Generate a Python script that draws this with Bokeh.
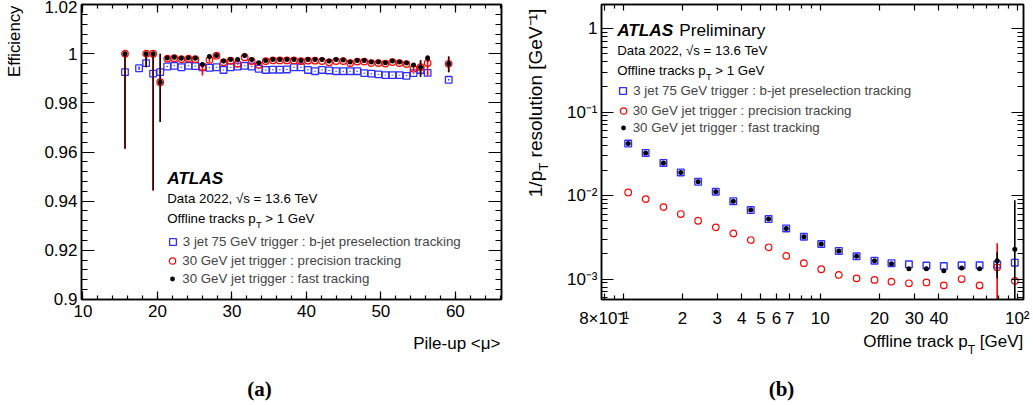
import json
import math
import numpy as np
from bokeh.plotting import figure
from bokeh.layouts import row, column
from bokeh.models import (ColumnDataSource, Range1d, LinearAxis, LogAxis,
                          SingleIntervalTicker, FixedTicker, LogTicker,
                          CustomJSTickFormatter, Label, Legend, LegendItem, AllLabels)
from bokeh.embed import file_html
from bokeh.resources import INLINE

nan = float("nan")

# ---------------- Panel (a): efficiency vs pile-up ----------------
mu = [15.64, 17.53, 18.48, 19.42, 20.37, 21.31, 22.26, 23.20, 24.15, 25.09,
      26.04, 26.98, 27.93, 28.87, 29.82, 30.76, 31.71, 32.65, 33.60, 34.54,
      35.49, 36.43, 37.38, 38.32, 39.27, 40.21, 41.16, 42.10, 43.05, 43.99,
      44.94, 45.88, 46.83, 47.77, 48.72, 49.66, 50.61, 51.55, 52.50, 53.44,
      54.39, 55.33, 56.28, 59.11]
eff_bjet = [0.9925, 0.9941, 0.9962, 0.9919, 0.9925, 0.9948, 0.9951, 0.9945, 0.9951, 0.9950,
            0.9945, 0.9943, 0.9945, 0.9934, 0.9945, 0.9948, 0.9951, 0.9948, 0.9939, 0.9934,
            0.9935, 0.9935, 0.9936, 0.9945, 0.9945, 0.9934, 0.9929, 0.9934, 0.9932, 0.9929,
            0.9929, 0.9929, 0.9929, 0.9921, 0.9919, 0.9916, 0.9913, 0.9913, 0.9913, 0.9910,
            0.9921, 0.9934, 0.9922, 0.9894]
eff_bjet_err = [0.0003, 0.0007, 0.0004, 0.0003, 0.0003, 0.0002, 0.0002, 0.0002, 0.0002, 0.0002,
                0.0002, 0.0002, 0.0002, 0.0002, 0.0002, 0.0002, 0.0002, 0.0002, 0.0002, 0.0002,
                0.0002, 0.0002, 0.0002, 0.0002, 0.0002, 0.0002, 0.0002, 0.0002, 0.0002, 0.0002,
                0.0002, 0.0002, 0.0002, 0.0002, 0.0002, 0.0002, 0.0002, 0.0002, 0.0002, 0.0002,
                0.0002, 0.0003, 0.0003, 0.0003]
eff_prec = [1.0000, nan, 1.0000, 1.0000, 0.9884, 0.9980, 0.9982, 0.9978, 0.9980, 0.9978,
            0.9945, 0.9975, 0.9992, 0.9965, 0.9972, 0.9959, 0.9986, 0.9970, 0.9955, 0.9970,
            0.9973, 0.9973, 0.9973, 0.9973, 0.9970, 0.9972, 0.9972, 0.9970, 0.9965, 0.9970,
            0.9970, 0.9962, 0.9968, 0.9968, 0.9962, 0.9962, 0.9960, 0.9966, 0.9962, 0.9958,
            0.9939, 0.9945, 0.9962, 0.9959]
eff_prec_dn = [0.0387, nan, 0.0055, 0.0557, 0.0162, 0.0004, 0.0004, 0.0004, 0.0004, 0.0004,
               0.0034, 0.0010, 0.0004, 0.0004, 0.0004, 0.0004, 0.0004, 0.0004, 0.0004, 0.0004,
               0.0004, 0.0004, 0.0004, 0.0004, 0.0004, 0.0004, 0.0004, 0.0004, 0.0004, 0.0004,
               0.0004, 0.0004, 0.0004, 0.0004, 0.0004, 0.0004, 0.0004, 0.0004, 0.0004, 0.0004,
               0.0010, 0.0035, 0.0052, 0.0034]
eff_prec_up = [0.0, nan, 0.0, 0.0, 0.0116, 0.0004, 0.0004, 0.0004, 0.0004, 0.0004,
               0.0015, 0.0010, 0.0004, 0.0004, 0.0004, 0.0004, 0.0004, 0.0004, 0.0004, 0.0004,
               0.0004, 0.0004, 0.0004, 0.0004, 0.0004, 0.0004, 0.0004, 0.0004, 0.0004, 0.0004,
               0.0004, 0.0004, 0.0004, 0.0004, 0.0004, 0.0004, 0.0004, 0.0004, 0.0004, 0.0004,
               0.0010, 0.0030, 0.0025, 0.0030]
eff_fast = [1.0000, nan, 1.0000, 1.0000, 0.9884, 0.9983, 0.9986, 0.9982, 0.9983, 0.9982,
            0.9956, 0.9989, 0.9993, 0.9970, 0.9977, 0.9977, 0.9993, 0.9977, 0.9963, 0.9973,
            0.9977, 0.9977, 0.9977, 0.9977, 0.9973, 0.9977, 0.9977, 0.9977, 0.9970, 0.9977,
            0.9975, 0.9966, 0.9973, 0.9973, 0.9966, 0.9966, 0.9963, 0.9970, 0.9966, 0.9962,
            0.9954, 0.9945, 0.9983, 0.9959]
eff_fast_dn = [0.0387, nan, 0.0055, 0.0557, 0.0162, 0.0003, 0.0003, 0.0003, 0.0003, 0.0003,
               0.0010, 0.0008, 0.0003, 0.0003, 0.0003, 0.0003, 0.0003, 0.0003, 0.0003, 0.0003,
               0.0003, 0.0003, 0.0003, 0.0003, 0.0003, 0.0003, 0.0003, 0.0003, 0.0003, 0.0003,
               0.0003, 0.0003, 0.0003, 0.0003, 0.0003, 0.0003, 0.0003, 0.0003, 0.0003, 0.0003,
               0.0008, 0.0040, 0.0017, 0.0034]
eff_fast_up = [0.0, nan, 0.0, 0.0, 0.0116, 0.0003, 0.0003, 0.0003, 0.0003, 0.0003,
               0.0010, 0.0008, 0.0003, 0.0003, 0.0003, 0.0003, 0.0003, 0.0003, 0.0003, 0.0003,
               0.0003, 0.0003, 0.0003, 0.0003, 0.0003, 0.0003, 0.0003, 0.0003, 0.0003, 0.0003,
               0.0003, 0.0003, 0.0003, 0.0003, 0.0003, 0.0003, 0.0003, 0.0003, 0.0003, 0.0003,
               0.0008, 0.0028, 0.0011, 0.0030]

# ---------------- Panel (b): 1/pT resolution vs pT ----------------
pt = [1.06, 1.30, 1.60, 1.96, 2.40, 2.95, 3.62, 4.44, 5.47, 6.72, 8.26, 10.12,
      12.43, 15.29, 18.86, 23.0, 28.2, 34.6, 42.4, 52.2, 64.4, 79.1, 97.2]
res_bjet = [0.0419, 0.0324, 0.0246, 0.0189, 0.0146, 0.0111, 0.00857, 0.0067, 0.00523,
            0.00404, 0.00321, 0.00263, 0.00217, 0.00187, 0.00166, 0.00155, 0.00150,
            0.00145, 0.00143, 0.00146, 0.00146, 0.00149, 0.00157]
res_prec = [0.01089, 0.00906, 0.00727, 0.00600, 0.00499, 0.00416, 0.00352, 0.00293,
            0.00240, 0.00189, 0.00155, 0.00131, 0.00112, 0.00102, 0.000976, 0.00093,
            0.00089, 0.00091, 0.00084, 0.00100, 0.00084, 0.00138, 0.00095]
res_prec_dn = [0, 0, 0, 0, 0, 0, 0, 0, 0, 0, 0, 0, 0, 0, 0, 0, 0, 0, 0, 0, 0, 0.00110, 0]
res_prec_up = [0, 0, 0, 0, 0, 0, 0, 0, 0, 0, 0, 0, 0, 0, 0, 0, 0, 0, 0, 0, 0, 0.00130, 0]
res_fast = [0.0419, 0.0324, 0.0246, 0.0189, 0.0146, 0.0111, 0.00857, 0.0067, 0.00523,
            0.00404, 0.00321, 0.00263, 0.00217, 0.00187, 0.00166, 0.00153, 0.00133,
            0.00133, 0.00126, 0.00136, 0.00133, 0.00166, 0.00227]
res_fast_dn = [0, 0, 0, 0, 0, 0, 0, 0, 0, 0, 0, 0, 0, 0, 0,
               0.00006, 0.00006, 0.00006, 0.00006, 0.00006, 0.00006, 0.00064, 0.00200]
res_fast_up = [0, 0, 0, 0, 0, 0, 0, 0, 0, 0, 0, 0, 0, 0, 0,
               0.00006, 0.00006, 0.00006, 0.00006, 0.00006, 0.00006, 0.00043, 0.00653]

series_labels = ["3 jet 75 GeV trigger : b-jet preselection tracking",
                 "30 GeV jet trigger : precision tracking",
                 "30 GeV jet trigger : fast tracking"]
pt_ticks = [0.8, 1, 2, 3, 4, 5, 6, 7, 10, 20, 30, 40, 100]
pt_tick_labels = ["8×10⁻¹", "1", "2", "3", "4", "5", "6", "7", "10", "20", "30", "40", "10²"]
pt_minor_ticks = [0.9, 8, 9, 50, 60, 70, 80, 90]

BLUE = "#2f2fff"
RED = "#ff0000"
FONT = "Liberation Sans"

# Helvetica / Liberation Sans advance widths (per 1000 em)
W = {' ': 278, '/': 278, '[': 278, ']': 278, '.': 278, ',': 278, ':': 278, '-': 333,
     '>': 584, '<': 584, '=': 584,
     'a': 556, 'b': 556, 'c': 500, 'd': 556, 'e': 556, 'f': 278, 'g': 556, 'h': 556,
     'i': 222, 'j': 222, 'k': 500, 'l': 222, 'm': 833, 'n': 556, 'o': 556, 'p': 556,
     'q': 556, 'r': 333, 's': 500, 't': 278, 'u': 556, 'v': 500, 'w': 722, 'x': 500,
     'y': 500, 'z': 500, 'A': 667, 'D': 722, 'E': 667, 'G': 778, 'L': 556, 'O': 778,
     'P': 667, 'S': 667, 'T': 611, 'V': 667}
WB = {'A': 722, 'T': 611, 'L': 611, 'S': 667, ' ': 278}


def tw(s, size, bold=False):
    tab = WB if bold else W
    return sum(tab.get(c, 556) for c in s) * size / 1000.0


def txt(p, x, y, s, size, font=FONT, style="normal", align="left", angle=0.0):
    p.add_layout(Label(x=x, y=y, x_units="canvas", y_units="canvas", text=s,
                       text_font=font, text_font_size=f"{size}px", text_font_style=style,
                       text_align=align, text_baseline="middle", angle=angle,
                       text_color="black"))


def style_axis(ax, tin, mtin, label_size="17px", standoff=4):
    ax.axis_line_color = "black"
    ax.axis_line_width = 1.5
    ax.major_tick_line_color = "black"
    ax.minor_tick_line_color = "black"
    ax.major_tick_line_width = 1.2
    ax.minor_tick_line_width = 1.2
    ax.major_tick_in = tin
    ax.major_tick_out = 0
    ax.minor_tick_in = mtin
    ax.minor_tick_out = 0
    ax.major_label_text_font = FONT
    ax.major_label_text_font_size = label_size
    ax.major_label_text_color = "black"
    ax.major_label_standoff = standoff
    ax.major_label_policy = AllLabels()


def blank_axis(ax, tin, mtin):
    style_axis(ax, tin, mtin, label_size="0px", standoff=0)
    ax.formatter = CustomJSTickFormatter(code="return '';")


def errs(x, v, dn, up):
    v = np.array(v, dtype=float)
    return ColumnDataSource(dict(x=x, lo=v - np.array(dn, dtype=float),
                                 hi=v + np.array(up, dtype=float)))


def add_legends(p, rows, cx, renderers):
    # rows: y of row centre above frame bottom; cx: marker centre from frame left
    specs = [(17, 2), (16, 2), (12, 4)]
    for (gw, st), ry, r, lab in zip(specs, rows, renderers, series_labels):
        lg = Legend(items=[LegendItem(label=lab, renderers=[r])],
                    location=(cx - gw / 2.0, ry - 8.5),
                    glyph_width=gw, glyph_height=17, label_height=17, label_standoff=st,
                    padding=0, margin=0, spacing=0, border_line_color=None,
                    background_fill_alpha=0, label_text_font=FONT,
                    label_text_font_size="13.3px")
        p.add_layout(lg)


def text_strip(w, h):
    s = figure(width=w, height=h, x_range=Range1d(0, 1), y_range=Range1d(0, 1),
               x_axis_location=None, y_axis_location=None, toolbar_location=None,
               output_backend="svg", min_border=0, min_border_left=0, min_border_right=0,
               min_border_top=0, min_border_bottom=0)
    s.xgrid.visible = False
    s.ygrid.visible = False
    s.outline_line_color = None
    s.background_fill_color = "white"
    s.border_fill_color = "white"
    return s


def main_fig(w, h, xr, yr, bl, br, **kw):
    p = figure(width=w, height=h, x_range=xr, y_range=yr, output_backend="svg",
               toolbar_location=None, min_border_left=bl, min_border_right=br,
               min_border_top=4, min_border_bottom=h - 4 - 295, **kw)
    p.xgrid.visible = False
    p.ygrid.visible = False
    p.outline_line_color = "black"
    p.outline_line_width = 1.5
    p.background_fill_color = "white"
    p.border_fill_color = "white"
    return p


H_MAIN = 330
H_ALL = 404
SP13 = tw(" ", 13.3)

# =============== figure (a) ===============
# main_a occupies page x 24..520, frame 81..501, y 4..299
pa = main_fig(496, H_MAIN, Range1d(9.8, 66.2), Range1d(0.89995, 1.02005), 57, 19)

xt_a = SingleIntervalTicker(interval=10, num_minor_ticks=5)
yt_a = SingleIntervalTicker(interval=0.02, num_minor_ticks=5)
pa.xaxis[0].ticker = xt_a
pa.yaxis[0].ticker = yt_a
pa.yaxis[0].formatter = CustomJSTickFormatter(
    code="return tick.toFixed(2).replace(/0+$/, '').replace(/\\.$/, '');")
style_axis(pa.xaxis[0], 8, 4, standoff=5)
style_axis(pa.yaxis[0], 13, 6, standoff=4)
ra = LinearAxis(ticker=yt_a)
blank_axis(ra, 13, 6)
pa.add_layout(ra, "right")
ta = LinearAxis(ticker=xt_a)
blank_axis(ta, 8, 4)
pa.add_layout(ta, "above")

pa.segment(x0="x", y0="lo", x1="x", y1="hi", source=errs(mu, eff_bjet, eff_bjet_err, eff_bjet_err),
           line_color=BLUE, line_width=1.5)
r_b = pa.scatter(mu, eff_bjet, marker="square", size=6.6, fill_color=None,
                 line_color=BLUE, line_width=1.3)
pa.segment(x0="x", y0="lo", x1="x", y1="hi", source=errs(mu, eff_prec, eff_prec_dn, eff_prec_up),
           line_color=RED, line_width=1.6)
r_p = pa.scatter(mu, eff_prec, marker="circle", size=6.6, fill_color=None,
                 line_color=RED, line_width=1.2)
pa.segment(x0="x", y0="lo", x1="x", y1="hi", source=errs(mu, eff_fast, eff_fast_dn, eff_fast_up),
           line_color="black", line_width=1.6, line_alpha=0.85)
r_f = pa.scatter(mu, eff_fast, marker="circle", size=5.0, fill_color="black", line_color=None)

add_legends(pa, [299 - 241.7, 299 - 260.3, 299 - 278.7], 91.3, [r_b, r_p, r_f])

OA = 24  # page x of main_a canvas
txt(pa, 166.7 - OA, 177.5, "ATLAS", 17.2, style="bold italic")
txt(pa, 166.7 - OA, 198, "Data 2022, √s = 13.6 TeV", 13.3)
x0 = 166.7 - OA
txt(pa, x0, 218.3, "Offline tracks p", 13.3)
x1 = x0 + tw("Offline tracks p", 13.3)
txt(pa, x1, 224.7, "T", 9.3)
txt(pa, x1 + tw("T", 9.3) + SP13, 218.3, "> 1 GeV", 13.3)

left_a = text_strip(24, H_ALL)
txt(left_a, 14, 5, "Efficiency", 16.8, align="right", angle=math.pi / 2)

bot_a = text_strip(496, H_ALL - H_MAIN)
txt(bot_a, 500 - OA, 343.3 - H_MAIN, "Pile-up <μ>", 17, align="right")
txt(bot_a, 259 - OA, 388 - H_MAIN, "(a)", 21, font="Liberation Serif", style="bold", align="center")

# =============== figure (b) ===============
# main_b occupies page x 552..1032, frame 601..1023, y 4..299
pb = main_fig(480, H_MAIN, Range1d(0.776, 107.6), Range1d(5.69e-4, 1.939), 49, 9,
              x_axis_type="log", y_axis_type="log")

xt_b = FixedTicker(ticks=pt_ticks, minor_ticks=pt_minor_ticks)
yt_b = LogTicker(num_minor_ticks=10)
mapping = {str(t): l for t, l in zip(pt_ticks, pt_tick_labels)}
pb.xaxis[0].ticker = xt_b
pb.xaxis[0].formatter = CustomJSTickFormatter(
    code="const m = " + json.dumps(mapping) + "; const k = String(tick); return (k in m) ? m[k] : '';")
pb.yaxis[0].ticker = yt_b
pb.yaxis[0].formatter = CustomJSTickFormatter(code="""
const e = Math.round(Math.log10(tick));
if (e == 0) return '1';
const sup = {'-': '\u207b', '0': '\u2070', '1': '\u00b9', '2': '\u00b2', '3': '\u00b3',
             '4': '\u2074', '5': '\u2075', '6': '\u2076', '7': '\u2077', '8': '\u2078', '9': '\u2079'};
return '10' + String(e).split('').map(c => sup[c]).join('');
""")
style_axis(pb.xaxis[0], 6, 4, standoff=9)
style_axis(pb.yaxis[0], 12, 6, standoff=4)
rb = LogAxis(ticker=yt_b)
blank_axis(rb, 12, 6)
pb.add_layout(rb, "right")
tb = LogAxis(ticker=xt_b)
blank_axis(tb, 6, 4)
pb.add_layout(tb, "above")

rb_b = pb.scatter(pt, res_bjet, marker="square", size=6.6, fill_color=None,
                  line_color=BLUE, line_width=1.4)
pb.segment(x0="x", y0="lo", x1="x", y1="hi", source=errs(pt, res_prec, res_prec_dn, res_prec_up),
           line_color=RED, line_width=1.6)
rb_p = pb.scatter(pt, res_prec, marker="circle", size=6.6, fill_color=None,
                  line_color=RED, line_width=1.2)
pb.segment(x0="x", y0="lo", x1="x", y1="hi", source=errs(pt, res_fast, res_fast_dn, res_fast_up),
           line_color="black", line_width=1.6)
rb_f = pb.scatter(pt, res_fast, marker="circle", size=5.0, fill_color="black", line_color=None)

add_legends(pb, [299 - 90.7, 299 - 110.0, 299 - 127.7], 21.7, [rb_b, rb_p, rb_f])

OB = 552  # page x of main_b canvas
bx0 = 616.7 - OB
txt(pb, bx0, 29.5, "ATLAS", 17.2, style="bold italic")
txt(pb, bx0 + tw("ATLAS ", 17.2, bold=True), 29.5, "Preliminary", 17.2)
txt(pb, bx0, 50, "Data 2022, √s = 13.6 TeV", 13.3)
txt(pb, bx0, 70, "Offline tracks p", 13.3)
bx1 = bx0 + tw("Offline tracks p", 13.3)
txt(pb, bx1, 76.4, "T", 9.3)
txt(pb, bx1 + tw("T", 9.3) + SP13, 70, "> 1 GeV", 13.3)

bot_b = text_strip(480, H_ALL - H_MAIN)
xr = 1022.7 - OB
yb0 = 341 - H_MAIN
txt(bot_b, xr, yb0, "[GeV]", 17, align="right")
xr2 = xr - tw(" [GeV]", 17)
txt(bot_b, xr2, yb0 + 8, "T", 11.9, align="right")
txt(bot_b, xr2 - tw("T", 11.9), yb0, "Offline track p", 17, align="right")
txt(bot_b, 781 - OB, 388 - H_MAIN, "(b)", 21, font="Liberation Serif", style="bold", align="center")

# y-axis title of (b), rotated, anchored at its bottom end (page x 520..552)
left_b = text_strip(32, H_ALL)
yb = 196.7
txt(left_b, 15, yb, "1/p", 19, angle=math.pi / 2)
yb2 = yb - tw("1/p", 19)
txt(left_b, 23.3, yb2, "T", 13.3, angle=math.pi / 2)
txt(left_b, 15, yb2 - tw("T", 13.3) - tw(" ", 19), "resolution [GeV⁻¹]", 19, angle=math.pi / 2)

layout = row(left_a, column(pa, bot_a), left_b, column(pb, bot_b))
open("out.html", "w").write(file_html(layout, INLINE))
